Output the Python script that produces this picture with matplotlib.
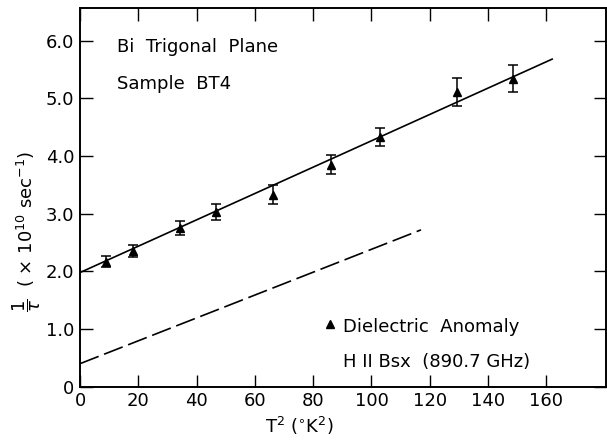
import numpy as np
import matplotlib.pyplot as plt

# data
t2 = [8.9, 18.1, 34.3, 46.7, 66.3, 86.1, 102.9, 129.2, 148.4]
rate = [2.17, 2.35, 2.75, 3.03, 3.33, 3.85, 4.33, 5.11, 5.34]
err = [0.10, 0.10, 0.12, 0.14, 0.16, 0.16, 0.16, 0.24, 0.23]

fit_x = [0, 162]
fit_y = [1.98, 5.68]
dash_x = [0, 117]
dash_y = [0.40, 2.72]

xticks = [0, 20, 40, 60, 80, 100, 120, 140, 160]
xticklabels = ['0', '20', '40', '60', '80', '100', '120', '140', '160']
yticks = [0, 1, 2, 3, 4, 5, 6]
yticklabels = ['0', '1.0', '2.0', '3.0', '4.0', '5.0', '6.0']

plt.rcParams['font.family'] = ['DejaVu Sans']
plt.rcParams['mathtext.fontset'] = 'dejavusans'

fig = plt.figure(figsize=(6.07, 4.40), dpi=100)
ax = fig.add_axes([0.1318, 0.121, 0.8662, 0.860])

ax.plot(fit_x, fit_y, color='black', linewidth=1.2)
ax.plot(dash_x, dash_y, color='black', linewidth=1.2, dashes=(12, 3.5))
ax.errorbar(t2, rate, yerr=err, fmt='^', color='black', markersize=6,
            elinewidth=1.1, capsize=3.5, capthick=1.1)

ax.set_xlim(0, 180.4)
ax.set_ylim(0, 6.56)
ax.set_xticks(xticks)
ax.set_xticklabels(xticklabels)
ax.set_yticks(yticks)
ax.set_yticklabels(yticklabels)
ax.tick_params(direction='in', length=9, width=1.0, top=True, right=True,
               labelsize=13, pad=4)
for s in ax.spines.values():
    s.set_linewidth(1.4)

ax.set_xlabel(r'T$^{2}$ ($^{\circ}$K$^{2}$)', fontsize=13, labelpad=6)
ax.xaxis.set_label_coords(0.418, -0.075)
ax.set_ylabel(r'$\dfrac{1}{\tau}$  ( $\times$ 10$^{10}$ sec$^{-1}$)', fontsize=13)
ax.yaxis.set_label_coords(-0.07, 0.41)

ax.text(0.07, 0.884, 'Bi  Trigonal  Plane', transform=ax.transAxes, fontsize=13)
ax.text(0.07, 0.787, 'Sample  BT4', transform=ax.transAxes, fontsize=13)
ax.plot([0.475], [0.165], marker='^', color='black', markersize=6,
        transform=ax.transAxes, clip_on=False)
ax.text(0.5, 0.145, 'Dielectric  Anomaly', transform=ax.transAxes, fontsize=13)
ax.text(0.5, 0.053, 'H II Bsx  (890.7 GHz)', transform=ax.transAxes, fontsize=13)

plt.savefig('out.png', dpi=100)
